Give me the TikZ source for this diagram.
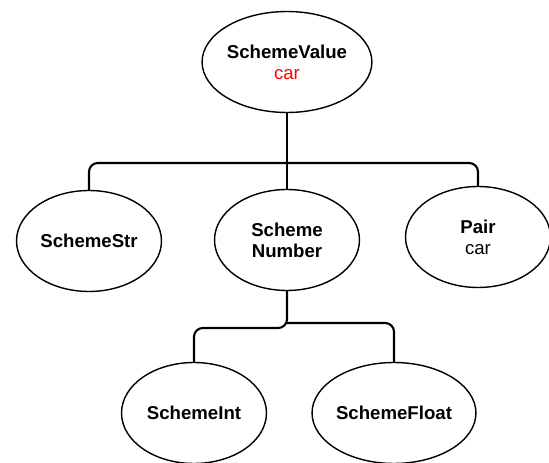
\documentclass[tikz,border=0pt]{standalone}
\usepackage{fontspec}
\setmainfont{Liberation Sans}
\usetikzlibrary{shapes.geometric}
\tikzset{
    x=0.02cm, y=-0.02cm, % one unit is one pixel of the sketch
    class/.style={ % Sets the properties for each class bubble
        ellipse,
        draw,
        line width=0.8pt,
        minimum width=2.9cm,
        minimum height=2.02cm,
        inner sep=0pt,
        align=center,
        font=\bfseries\fontsize{10.6}{12}\selectfont
    },
    link/.style={ % Sets the properties for each inheritance line
        draw,
        line width=1.2pt,
        rounded corners=5pt
    }
}

\begin{document}
\begin{tikzpicture}
            \useasboundingbox (0,0) rectangle (549,463);
            \node[class] (sv) at (287,62) {SchemeValue\\{\mdseries\color{red}car}};
            \node[class] (ss) at (89,241) {SchemeStr};
            \node[class] (sn) at (287,240) {Scheme\\Number};
            \node[class] (pr) at (478,237) {Pair\\{\mdseries car}};
            \node[class] (si) at (194,413) {SchemeInt};
            \node[class] (sf) at (394,413) {SchemeFloat};
            \coordinate (topfork) at (287,163);
            \coordinate (leftfork) at (287,328);
            \coordinate (rightfork) at (287,323);

            \draw[link] (sv) -- (sn);
            \draw[link] (topfork) -| (ss.north);
            \draw[link] (topfork) -| (pr.north);
            \draw[link] (sn.south) -- (leftfork) -| (si.north);
            \draw[link] (rightfork) -| (sf.north);
        \end{tikzpicture}
\end{document}
